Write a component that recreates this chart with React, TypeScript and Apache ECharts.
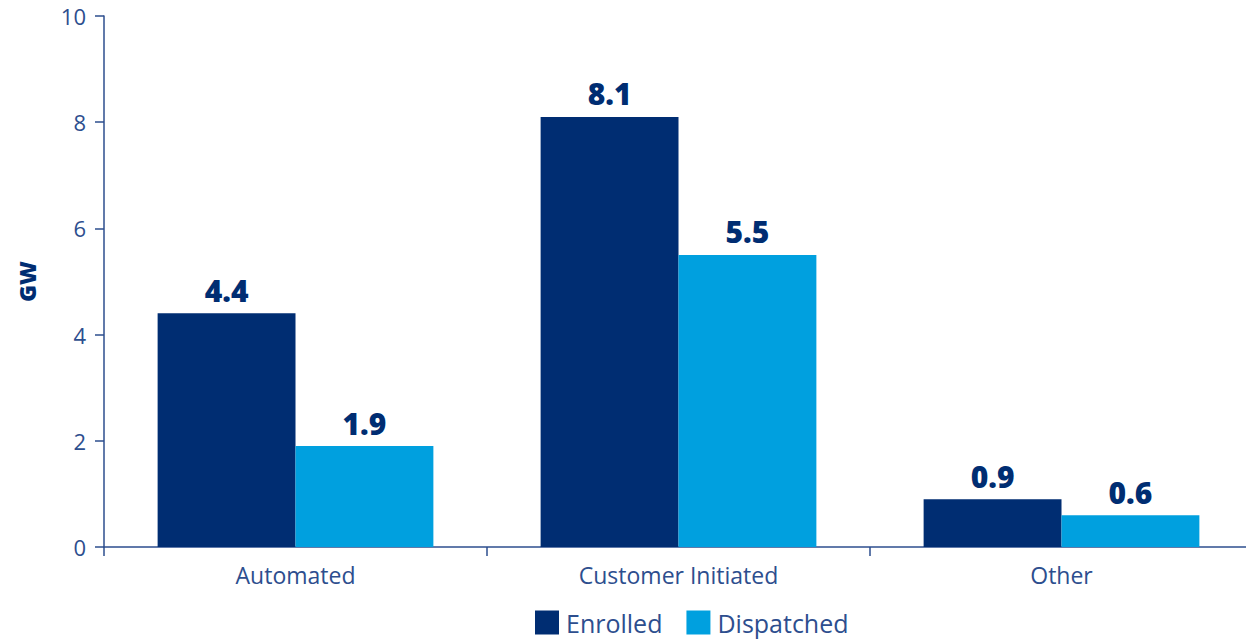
import React, { useEffect, useRef } from "react";
import * as echarts from "echarts";

const categories = ["Automated", "Customer Initiated", "Other"];
const enrolled = [4.4, 8.1, 0.9];
const dispatched = [1.9, 5.5, 0.6];
const seriesNames = ["Enrolled", "Dispatched"];

const AXIS = "#2d4e8e";
const NAVY = "#002d72";
const CYAN = "#00a0df";
const FONT = "'Open Sans', 'Noto Sans', sans-serif";

export default function App() {
  const ref = useRef<HTMLDivElement>(null);
  useEffect(() => {
    const chart = echarts.init(ref.current!, null, { renderer: "svg" });
    const label = {
      show: true,
      position: "top",
      distance: 8,
      color: NAVY,
      fontFamily: FONT,
      fontWeight: 800,
      fontSize: 30,
      formatter: (p: any) => p.value.toFixed(1),
    };
    chart.setOption({
      animation: false,
      textStyle: { fontFamily: FONT },
      grid: { left: 104, width: 1149, top: 16, bottom: 95, containLabel: false, outerBoundsMode: "none" },
      legend: {
        bottom: 2,
        left: 530,
        itemWidth: 24,
        itemHeight: 24,
        itemGap: 24,
        icon: "rect",
        textStyle: { fontSize: 25, color: AXIS, fontFamily: FONT, padding: [0, 0, 0, 2] },
        data: seriesNames,
      },
      xAxis: {
        type: "category",
        data: categories,
        axisLine: { lineStyle: { color: AXIS, width: 1.5 } },
        axisTick: { show: true, length: 9, lineStyle: { color: AXIS, width: 1.5 } },
        axisLabel: { fontSize: 23, color: AXIS, margin: 16, fontFamily: FONT },
      },
      yAxis: {
        type: "value",
        min: 0,
        max: 10,
        interval: 2,
        name: "GW",
        nameLocation: "middle",
        nameGap: 66,
        nameRotate: 90,
        nameTextStyle: { fontSize: 23, fontWeight: 800, color: NAVY, fontFamily: FONT },
        axisLine: { show: true, lineStyle: { color: AXIS, width: 1.5 } },
        axisTick: { show: true, length: 9, lineStyle: { color: AXIS, width: 1.5 } },
        axisLabel: { fontSize: 22, color: AXIS, margin: 18, fontFamily: FONT },
        splitLine: { show: false },
      },
      series: [
        {
          name: seriesNames[0],
          type: "bar",
          data: enrolled,
          itemStyle: { color: NAVY },
          barGap: "0%",
          barCategoryGap: "28%",
          label,
        },
        {
          name: seriesNames[1],
          type: "bar",
          data: dispatched,
          itemStyle: { color: CYAN },
          barGap: "0%",
          barCategoryGap: "28%",
          label,
        },
      ],
    });
    return () => chart.dispose();
  }, []);
  return <div ref={ref} style={{ width: 1246, height: 642, position: "absolute", left: 0, top: 0 }} />;
}
